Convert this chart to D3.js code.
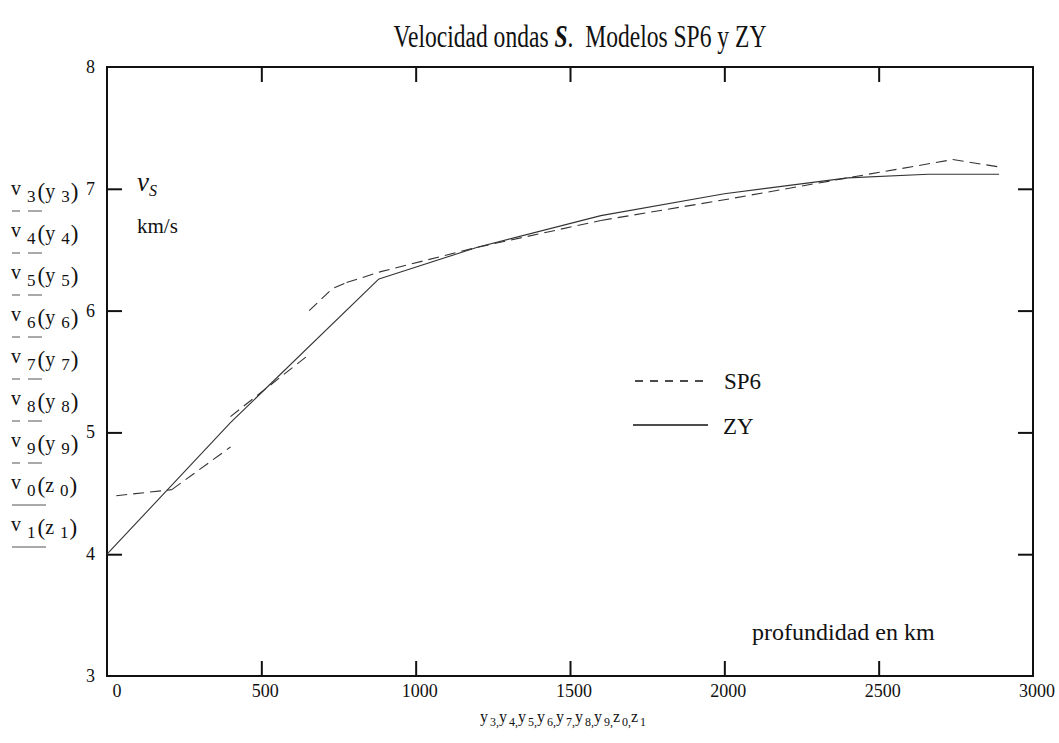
<!DOCTYPE html>
<html>
<head>
<meta charset="utf-8">
<script src="https://cdn.jsdelivr.net/npm/d3@7"></script>
<style>
  body { margin: 0; background: #fff; }
  svg text { font-family: "Times New Roman", "Liberation Serif", "DejaVu Serif", serif; fill: #111; }
</style>
</head>
<body>
<div id="chart"></div>
<script>
// SP6 model, one piece per layer (depth in km, velocity in km/s)
const y3 = [30, 210],            v3 = [4.48, 4.53];
const y4 = [210, 400],           v4 = [4.53, 4.88];
const y5 = [400, 655],           v5 = [5.13, 5.64];
const y6 = [655, 730, 776],      v6 = [6.00, 6.18, 6.23];
const y7 = [776, 887, 1200, 1600], v7 = [6.23, 6.32, 6.52, 6.74];
const y8 = [1600, 2000, 2400, 2740], v8 = [6.74, 6.91, 7.09, 7.24];
const y9 = [2740, 2890],         v9 = [7.24, 7.18];
// ZY model
const z0 = [0, 400, 881],        v0 = [4.00, 5.08, 6.26];
const z1 = [881, 1200, 1600, 2000, 2400, 2660, 2890], v1 = [6.26, 6.52, 6.78, 6.96, 7.09, 7.12, 7.12];

const xTicks = [0, 500, 1000, 1500, 2000, 2500, 3000];
const yTicks = [3, 4, 5, 6, 7, 8];
const sideLabels = [["3","y","3"],["4","y","4"],["5","y","5"],["6","y","6"],["7","y","7"],
                    ["8","y","8"],["9","y","9"],["0","z","0"],["1","z","1"]];
const bottomLabels = [["y","3"],["y","4"],["y","5"],["y","6"],["y","7"],["y","8"],["y","9"],["z","0"],["z","1"]];

const W = 1059, H = 743;
const plot = {left: 107, right: 1033, top: 67, bottom: 676};

const svg = d3.select("#chart").append("svg")
    .attr("width", W).attr("height", H);

const x = d3.scaleLinear().domain([0, 3000]).range([plot.left, plot.right]);
const y = d3.scaleLinear().domain([3, 8]).range([plot.bottom, plot.top]);

// title: the scan uses a narrow Times face, squeeze it horizontally
const title = svg.append("text")
    .attr("transform", "translate(580,47) scale(0.76,1)")
    .attr("text-anchor", "middle")
    .attr("font-size", 31);
title.append("tspan").text("Velocidad ondas ");
title.append("tspan").attr("font-style", "italic").attr("font-weight", "bold").text("S");
title.append("tspan").text(".\u00a0\u00a0Modelos SP6 y ZY");

// inward ticks on all four sides
const tickLen = 15;
const inner = xTicks.slice(1, -1);
const innerY = yTicks.slice(1, -1);
const axisStyle = g => {
  g.select(".domain").remove();
  g.selectAll(".tick line").attr("stroke", "#111").attr("stroke-width", 2);
  g.selectAll("text").remove();
};
svg.append("g").attr("transform", `translate(0,${plot.bottom})`)
    .call(d3.axisBottom(x).tickValues(inner).tickSize(-tickLen)).call(axisStyle);
svg.append("g").attr("transform", `translate(0,${plot.top})`)
    .call(d3.axisTop(x).tickValues(inner).tickSize(-tickLen)).call(axisStyle);
svg.append("g").attr("transform", `translate(${plot.left},0)`)
    .call(d3.axisLeft(y).tickValues(innerY).tickSize(-tickLen)).call(axisStyle);
svg.append("g").attr("transform", `translate(${plot.right},0)`)
    .call(d3.axisRight(y).tickValues(innerY).tickSize(-tickLen)).call(axisStyle);

// frame
svg.append("rect")
    .attr("x", plot.left).attr("y", plot.top)
    .attr("width", plot.right - plot.left).attr("height", plot.bottom - plot.top)
    .attr("fill", "none").attr("stroke", "#111").attr("stroke-width", 2);

// tick labels
svg.selectAll(".xlab").data(xTicks).enter().append("text")
    .attr("class", "xlab")
    .attr("x", d => x(d) + (d === 0 ? 10 : 4))
    .attr("y", plot.bottom + 21)
    .attr("text-anchor", "middle")
    .attr("font-size", 18)
    .text(d => d);
svg.selectAll(".ylab").data(yTicks).enter().append("text")
    .attr("class", "ylab")
    .attr("x", plot.left - 12)
    .attr("y", d => y(d) + 6)
    .attr("text-anchor", "end")
    .attr("font-size", 18)
    .text(d => d);

// data lines
const line = d3.line().x(d => x(d[0])).y(d => y(d[1]));
const pairs = (a, b) => a.map((d, i) => [d, b[i]]);
const sp6 = [[y3, v3], [y4, v4], [y5, v5], [y6, v6], [y7, v7], [y8, v8], [y9, v9]];
const zy = [[z0, v0], [z1, v1]];

svg.selectAll(".sp6").data(sp6).enter().append("path")
    .attr("class", "sp6")
    .attr("d", d => line(pairs(d[0], d[1])))
    .attr("fill", "none").attr("stroke", "#333").attr("stroke-width", 1.1)
    .attr("stroke-dasharray", "11,6");
svg.selectAll(".zy").data(zy).enter().append("path")
    .attr("class", "zy")
    .attr("d", d => line(pairs(d[0], d[1])))
    .attr("fill", "none").attr("stroke", "#333").attr("stroke-width", 1.1);

// in-plot labels
const vs = svg.append("text").attr("x", 137).attr("y", 191).attr("font-size", 27).attr("font-style", "italic");
vs.append("tspan").text("v");
vs.append("tspan").attr("font-size", 16).attr("dy", 5).text("S");
svg.append("text").attr("x", 137).attr("y", 233).attr("font-size", 21).text("km/s");
svg.append("text").attr("x", 752).attr("y", 640).attr("font-size", 24).text("profundidad en km");

// legend
svg.append("line").attr("x1", 635).attr("x2", 703).attr("y1", 381).attr("y2", 381)
    .attr("stroke", "#111").attr("stroke-width", 1.5).attr("stroke-dasharray", "8,7");
svg.append("text").attr("x", 724).attr("y", 389).attr("font-size", 23).text("SP6");
svg.append("line").attr("x1", 633).attr("x2", 708).attr("y1", 425).attr("y2", 425)
    .attr("stroke", "#111").attr("stroke-width", 1.5);
svg.append("text").attr("x", 723).attr("y", 434).attr("font-size", 23).text("ZY");

// stacked function labels on the left
sideLabels.forEach(function(d, i) {
  const base = 199 + i * 42;
  const t = svg.append("text").attr("x", 11).attr("y", base).attr("font-size", 20);
  t.append("tspan").attr("dy", -4).text("v");
  t.append("tspan").attr("font-size", 17).attr("dx", 6).attr("dy", 7).text(d[0]);
  t.append("tspan").attr("font-size", 23).attr("dx", 2).attr("dy", -3).text("(");
  t.append("tspan").attr("dy", -1).text(d[1]);
  t.append("tspan").attr("font-size", 17).attr("dx", 6).attr("dy", 4).text(d[2]);
  t.append("tspan").attr("font-size", 23).attr("dx", 1).attr("dy", -3).text(")");
  const uy = base + 12;
  if (d[1] === "y") {
    svg.append("line").attr("x1", 12).attr("x2", 20).attr("y1", uy).attr("y2", uy)
        .attr("stroke", "#555").attr("stroke-width", 1);
    svg.append("line").attr("x1", 28).attr("x2", 42).attr("y1", uy).attr("y2", uy)
        .attr("stroke", "#555").attr("stroke-width", 1);
  } else {
    svg.append("line").attr("x1", 12).attr("x2", 46).attr("y1", uy).attr("y2", uy)
        .attr("stroke", "#555").attr("stroke-width", 1);
  }
});

// bottom variable list
const bl = svg.append("text").attr("x", 563).attr("y", 722)
    .attr("text-anchor", "middle").attr("font-size", 16);
bottomLabels.forEach(function(d, i) {
  bl.append("tspan").attr("dy", i === 0 ? 0 : -4).text(d[0]);
  bl.append("tspan").attr("font-size", 12).attr("dx", 2).attr("dy", 4).text(d[1] + (i < bottomLabels.length - 1 ? "," : ""));
});
</script>
</body>
</html>
